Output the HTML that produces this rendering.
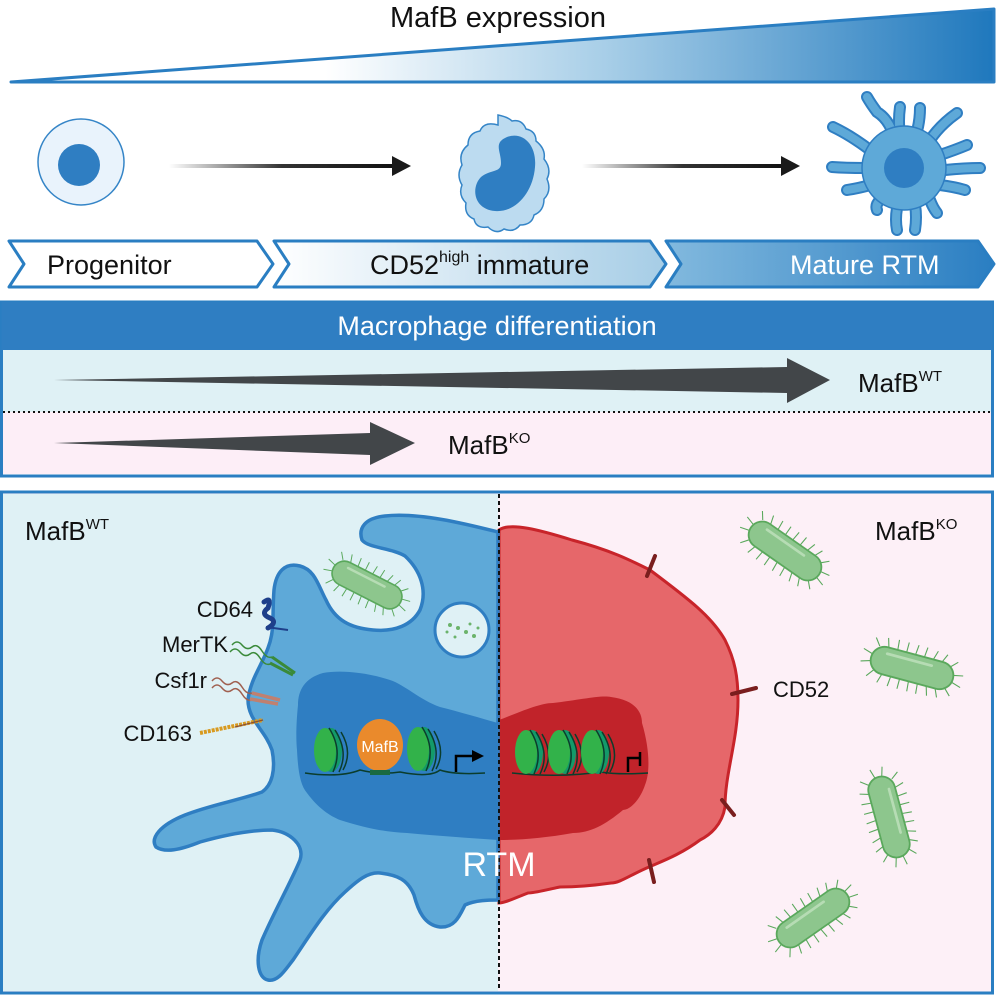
<!DOCTYPE html>
<html><head><meta charset="utf-8"><style>
html,body{margin:0;padding:0;background:#fff}
svg{display:block}
text{font-family:"Liberation Sans",Arial,sans-serif}
</style></head><body>
<svg width="996" height="996" viewBox="0 0 996 996" xmlns="http://www.w3.org/2000/svg">
<defs>
<linearGradient id="wedge" x1="0" x2="1" y1="0" y2="0">
<stop offset="0" stop-color="#fff"/><stop offset="0.32" stop-color="#fff"/><stop offset="0.6" stop-color="#a9cfe8"/><stop offset="1" stop-color="#1f78bd"/></linearGradient>
<linearGradient id="arr" x1="0" x2="1"><stop offset="0" stop-color="#fff"/><stop offset="0.5" stop-color="#333"/><stop offset="1" stop-color="#111"/></linearGradient>
<linearGradient id="chev2" x1="0" x2="1"><stop offset="0" stop-color="#fff"/><stop offset="1" stop-color="#a6cde6"/></linearGradient>
<linearGradient id="chev3" x1="0" x2="1"><stop offset="0" stop-color="#82b9de"/><stop offset="1" stop-color="#2a7ec2"/></linearGradient>
<g id="bac">
<g stroke="#5aa85c" stroke-width="1.2">
<path d="M-40,-14 l-6,-8 M-30,-15 l-3,-10 M-20,-15 l-1,-11 M-10,-15 l0,-11 M0,-15 l1,-11 M10,-15 l1,-11 M20,-15 l3,-10 M30,-15 l4,-9 M40,-12 l7,-7 M46,-4 l10,-2 M46,4 l10,3 M40,12 l7,7 M30,15 l4,9 M20,15 l3,10 M10,15 l1,11 M0,15 l1,11 M-10,15 l0,11 M-20,15 l-1,11 M-30,15 l-3,10 M-40,13 l-6,8 M-46,4 l-10,3 M-46,-4 l-10,-3"/></g>
<rect x="-46" y="-15" width="92" height="30" rx="15" fill="#8dc68d" stroke="#5aa85c" stroke-width="2"/>
<path d="M-30,-8 L20,-8" stroke="#b6dcb4" stroke-width="3" stroke-linecap="round"/>
</g>
<g id="nuc">
<ellipse cx="0" cy="0" rx="11" ry="22" fill="#139a69"/>
<ellipse cx="-6" cy="0" rx="11" ry="22" fill="#32b24a"/>
<path d="M-2,-22 q14,22 4,44 M4,-20 q14,22 4,42 M10,-18 q12,20 2,38" stroke="#0b3d2c" stroke-width="1.5" fill="none"/>
</g>
</defs>

<text x="498" y="27" font-size="29" text-anchor="middle" fill="#111">MafB expression</text>
<polygon points="11,82 994,9 994,82" fill="url(#wedge)" stroke="#2a7ec2" stroke-width="3" stroke-linejoin="round"/>

<ellipse cx="81" cy="162" rx="43" ry="43" fill="#e9f3fc" stroke="#3585c7" stroke-width="1.5"/>
<circle cx="79" cy="165" r="21" fill="#2f7ec2"/>
<rect x="169" y="164" width="225" height="4" fill="url(#arr)"/>
<polygon points="392,156 411,166 392,176" fill="#1a1a1a"/>
<rect x="582" y="164" width="200" height="4" fill="url(#arr)"/>
<polygon points="781,156 800,166 781,176" fill="#1a1a1a"/>
<path d="M498,115 q10,2 14,6 q10,-2 14,8 q10,2 10,12 q10,8 8,18 q8,10 3,20 q5,12 -3,20 q0,12 -10,16 q-2,10 -14,10 q-6,8 -16,4 q-8,6 -16,-2 q-12,2 -14,-8 q-10,-4 -8,-16 q-8,-8 -4,-18 q-6,-10 0,-20 q-4,-12 6,-20 q0,-12 12,-14 q4,-10 18,-6 z" fill="#bcdbf0" stroke="#3585c7" stroke-width="1.5"/>
<path d="M507,137 c16,-6 30,8 28,30 c-2,26 -20,46 -40,44 c-22,-2 -24,-24 -14,-34 c10,-8 20,-4 20,-14 c0,-12 -8,-20 6,-26 z" fill="#2f7ec2"/>
<g stroke="#2f7ec2" stroke-width="12" stroke-linecap="round" fill="none">
<path d="M895,140 q-5,-20 -18,-28 q-6,-8 -10,-15 M900,135 q-2,-14 0,-28 M915,138 q5,-15 5,-30 M930,140 q10,-15 27,-27 M940,155 q15,-5 27,-10 M945,170 q20,-2 35,-2 M940,185 q15,2 25,5 M930,200 q3,8 7,13 M915,205 q2,12 0,25 M897,208 q-2,12 0,22 M880,200 q-5,5 -3,10 M870,185 q-10,3 -23,5 M865,168 q-20,0 -33,-1 M870,150 q-20,-15 -37,-23"/></g>
<g stroke="#5ea9d8" stroke-width="8" stroke-linecap="round" fill="none">
<path d="M895,140 q-5,-20 -18,-28 q-6,-8 -10,-15 M900,135 q-2,-14 0,-28 M915,138 q5,-15 5,-30 M930,140 q10,-15 27,-27 M940,155 q15,-5 27,-10 M945,170 q20,-2 35,-2 M940,185 q15,2 25,5 M930,200 q3,8 7,13 M915,205 q2,12 0,25 M897,208 q-2,12 0,22 M880,200 q-5,5 -3,10 M870,185 q-10,3 -23,5 M865,168 q-20,0 -33,-1 M870,150 q-20,-15 -37,-23"/></g>
<circle cx="904" cy="168" r="42" fill="#5ea9d8" stroke="#2f7ec2" stroke-width="1.5"/>
<circle cx="904" cy="168" r="20" fill="#2f7ec2"/>

<polygon points="9,241 257,241 273,264 257,287 9,287 24,264" fill="#fff" stroke="#2a7ec2" stroke-width="3" stroke-linejoin="round"/>
<polygon points="274,241 650,241 666,264 650,287 274,287 289,264" fill="url(#chev2)" stroke="#2a7ec2" stroke-width="3" stroke-linejoin="round"/>
<polygon points="666,241 978,241 994,264 978,287 666,287 681,264" fill="url(#chev3)" stroke="#2a7ec2" stroke-width="3" stroke-linejoin="round"/>
<text x="47" y="274" font-size="27" fill="#111">Progenitor</text>
<text x="370" y="274" font-size="27" fill="#111">CD52<tspan font-size="16" dy="-12">high</tspan><tspan dy="12"> immature</tspan></text>
<text x="790" y="274" font-size="27" fill="#fff">Mature RTM</text>

<rect x="1.5" y="302" width="991" height="174" fill="#fff" stroke="#2a7ec2" stroke-width="3"/>
<rect x="1.5" y="302" width="991" height="48" fill="#2f7ec2"/>
<rect x="3" y="350" width="988" height="62" fill="#dff1f5"/>
<rect x="3" y="412" width="988" height="62" fill="#fdeef7"/>
<line x1="3" y1="412" x2="991" y2="412" stroke="#111" stroke-width="2" stroke-dasharray="2,3"/>
<text x="497" y="335" font-size="27" text-anchor="middle" fill="#fff">Macrophage differentiation</text>
<polygon points="54,380 787,367 787,358 830,380 787,403 787,393" fill="#424649"/>
<polygon points="54,443 370,433 370,422 415,443 370,465 370,455" fill="#424649"/>
<text x="858" y="392" font-size="26" fill="#111">MafB<tspan font-size="15" dy="-11">WT</tspan></text>
<text x="448" y="454" font-size="26" fill="#111">MafB<tspan font-size="15" dy="-11">KO</tspan></text>

<rect x="1.5" y="492" width="991" height="501" fill="#fdf0f7" stroke="#2a7ec2" stroke-width="3"/>
<rect x="3" y="494" width="495" height="497" fill="#dff1f5"/>

<path d="M499,530 C510,522 540,530 572,540 C610,550 630,560 650,570 C690,600 712,617 725,640 C735,660 738,677 738,700 C738,740 725,773 725,807 C722,825 710,835 700,840 C680,855 660,862 649,867 C630,875 620,883 611,883 C590,886 575,887 560,887 C545,890 535,893 528,893 C515,898 505,903 499,903 Z" fill="#e6676a" stroke="#c8242a" stroke-width="3"/>
<path d="M499,720 C520,712 540,703 553,703 C580,700 600,695 611,697 C635,700 642,712 642,723 C650,750 650,773 645,785 C640,800 630,810 623,810 C605,825 590,833 573,833 C545,838 520,840 499,840 Z" fill="#c1232a"/>

<path d="M498,532 C470,525 420,512 385,516 C365,518 358,528 362,540 C368,548 392,548 405,556 C420,570 428,590 420,610 C412,625 395,632 373,630 C350,628 335,620 326,600 C318,585 315,570 300,566 C285,562 276,572 274,590 C272,615 275,630 268,648 C262,665 250,680 248,700 C248,720 265,730 272,750 C276,770 272,785 262,792 C240,800 210,805 185,815 C160,825 150,838 156,847 C165,853 180,850 200,842 C225,835 250,830 272,830 C290,832 305,845 300,860 C292,880 275,910 262,940 C255,960 258,978 268,980 C278,982 285,970 293,960 C310,935 325,910 345,892 C358,880 368,872 380,873 C398,875 408,880 414,895 C418,910 424,925 440,927 C455,928 460,915 465,905 C475,900 490,900 498,900 Z" fill="#5ea9d8" stroke="#2f7ec2" stroke-width="3.5"/>
<path d="M498,723 C480,718 460,712 440,707 C420,700 405,685 390,680 C365,672 340,670 323,673 C305,678 298,690 298,705 C296,725 296,740 297,750 C298,770 300,785 307,793 C318,808 330,816 340,820 C365,828 385,832 407,833 C440,836 470,838 498,840 Z" fill="#2f7ec2"/>

<use href="#bac" transform="translate(367,585) rotate(27) scale(0.82)"/>
<circle cx="462" cy="630" r="27" fill="#dff1f5" stroke="#2f7ec2" stroke-width="3"/>
<g fill="#6bb36b"><circle cx="450" cy="625" r="2"/><circle cx="458" cy="628" r="2"/><circle cx="466" cy="632" r="2"/><circle cx="474" cy="636" r="2"/><circle cx="455" cy="637" r="1.5"/><circle cx="470" cy="624" r="1.5"/><circle cx="447" cy="632" r="1.5"/><circle cx="478" cy="628" r="1.5"/></g>
<use href="#bac" transform="translate(785,551) rotate(35) scale(0.9)"/>
<use href="#bac" transform="translate(912,668) rotate(15) scale(0.92)"/>
<use href="#bac" transform="translate(889,817) rotate(75) scale(0.9)"/>
<use href="#bac" transform="translate(813,918) rotate(-35) scale(0.9)"/>

<path d="M264,602 q8,-6 4,6 q-8,6 2,10 q8,4 -2,10" stroke="#1e3f8a" stroke-width="5" fill="none" stroke-linecap="round"/>
<line x1="266" y1="627" x2="288" y2="630" stroke="#1e3f8a" stroke-width="2"/>
<path d="M232,645 q5,-6 10,0 t10,2 t10,4 t10,6 M230,652 q5,-6 10,0 t10,2 t10,4 t10,6" stroke="#3a8a3a" stroke-width="1.5" fill="none"/>
<path d="M272,657 L295,673 M270,663 L293,675" stroke="#3a8a3a" stroke-width="3"/>
<path d="M212,681 q5,-6 10,0 t10,2 t10,4 t10,6 M212,688 q5,-6 10,0 t10,2 t10,4 t10,6" stroke="#a06050" stroke-width="1.5" fill="none"/>
<path d="M252,693 L280,700 M250,699 L278,704" stroke="#c08070" stroke-width="3.5"/>
<line x1="200" y1="733" x2="263" y2="720" stroke="#d89a20" stroke-width="4" stroke-dasharray="3,1"/>
<line x1="235" y1="727" x2="263" y2="720" stroke="#8a5030" stroke-width="1.2"/>
<g stroke="#7a1e1e" stroke-width="4" stroke-linecap="round">
<line x1="655" y1="556" x2="647" y2="576"/><line x1="732" y1="694" x2="756" y2="688"/><line x1="722" y1="800" x2="734" y2="815"/><line x1="649" y1="860" x2="654" y2="882"/></g>

<path d="M305,773 Q340,778 360,770 Q380,775 400,772 Q430,778 440,770 Q455,775 485,773" stroke="#0b3d2c" stroke-width="1.5" fill="none"/>
<use href="#nuc" transform="translate(331,750)"/>
<ellipse cx="380" cy="745" rx="23" ry="26" fill="#ea8a2c"/>
<rect x="370" y="770" width="20" height="5" fill="#1a6a40"/>
<text x="380" y="752" font-size="16" text-anchor="middle" fill="#fff">MafB</text>
<use href="#nuc" transform="translate(424,749)"/>
<path d="M456,772 L456,756 L474,756" stroke="#000" stroke-width="2.5" fill="none"/>
<polygon points="472,750 484,756 472,762" fill="#000"/>
<path d="M512,773 Q560,778 600,772 Q620,775 648,773" stroke="#0b3d2c" stroke-width="1.5" fill="none"/>
<use href="#nuc" transform="translate(532,752)"/>
<use href="#nuc" transform="translate(565,752)"/>
<use href="#nuc" transform="translate(598,752)"/>
<path d="M628,772 L628,758 L640,758 M640,752 L640,766" stroke="#000" stroke-width="2.5" fill="none"/>

<line x1="499" y1="494" x2="499" y2="991" stroke="#111" stroke-width="2" stroke-dasharray="4,3"/>

<text x="25" y="540" font-size="26" fill="#111">MafB<tspan font-size="15" dy="-11">WT</tspan></text>
<text x="875" y="540" font-size="26" fill="#111">MafB<tspan font-size="15" dy="-11">KO</tspan></text>
<text x="253" y="617" font-size="22" text-anchor="end" fill="#111">CD64</text>
<text x="228" y="652" font-size="22" text-anchor="end" fill="#111">MerTK</text>
<text x="207" y="688" font-size="22" text-anchor="end" fill="#111">Csf1r</text>
<text x="192" y="741" font-size="22" text-anchor="end" fill="#111">CD163</text>
<text x="773" y="697" font-size="22" fill="#111">CD52</text>
<text x="499" y="876" font-size="34" text-anchor="middle" fill="#fff">RTM</text>
</svg>
</body></html>
